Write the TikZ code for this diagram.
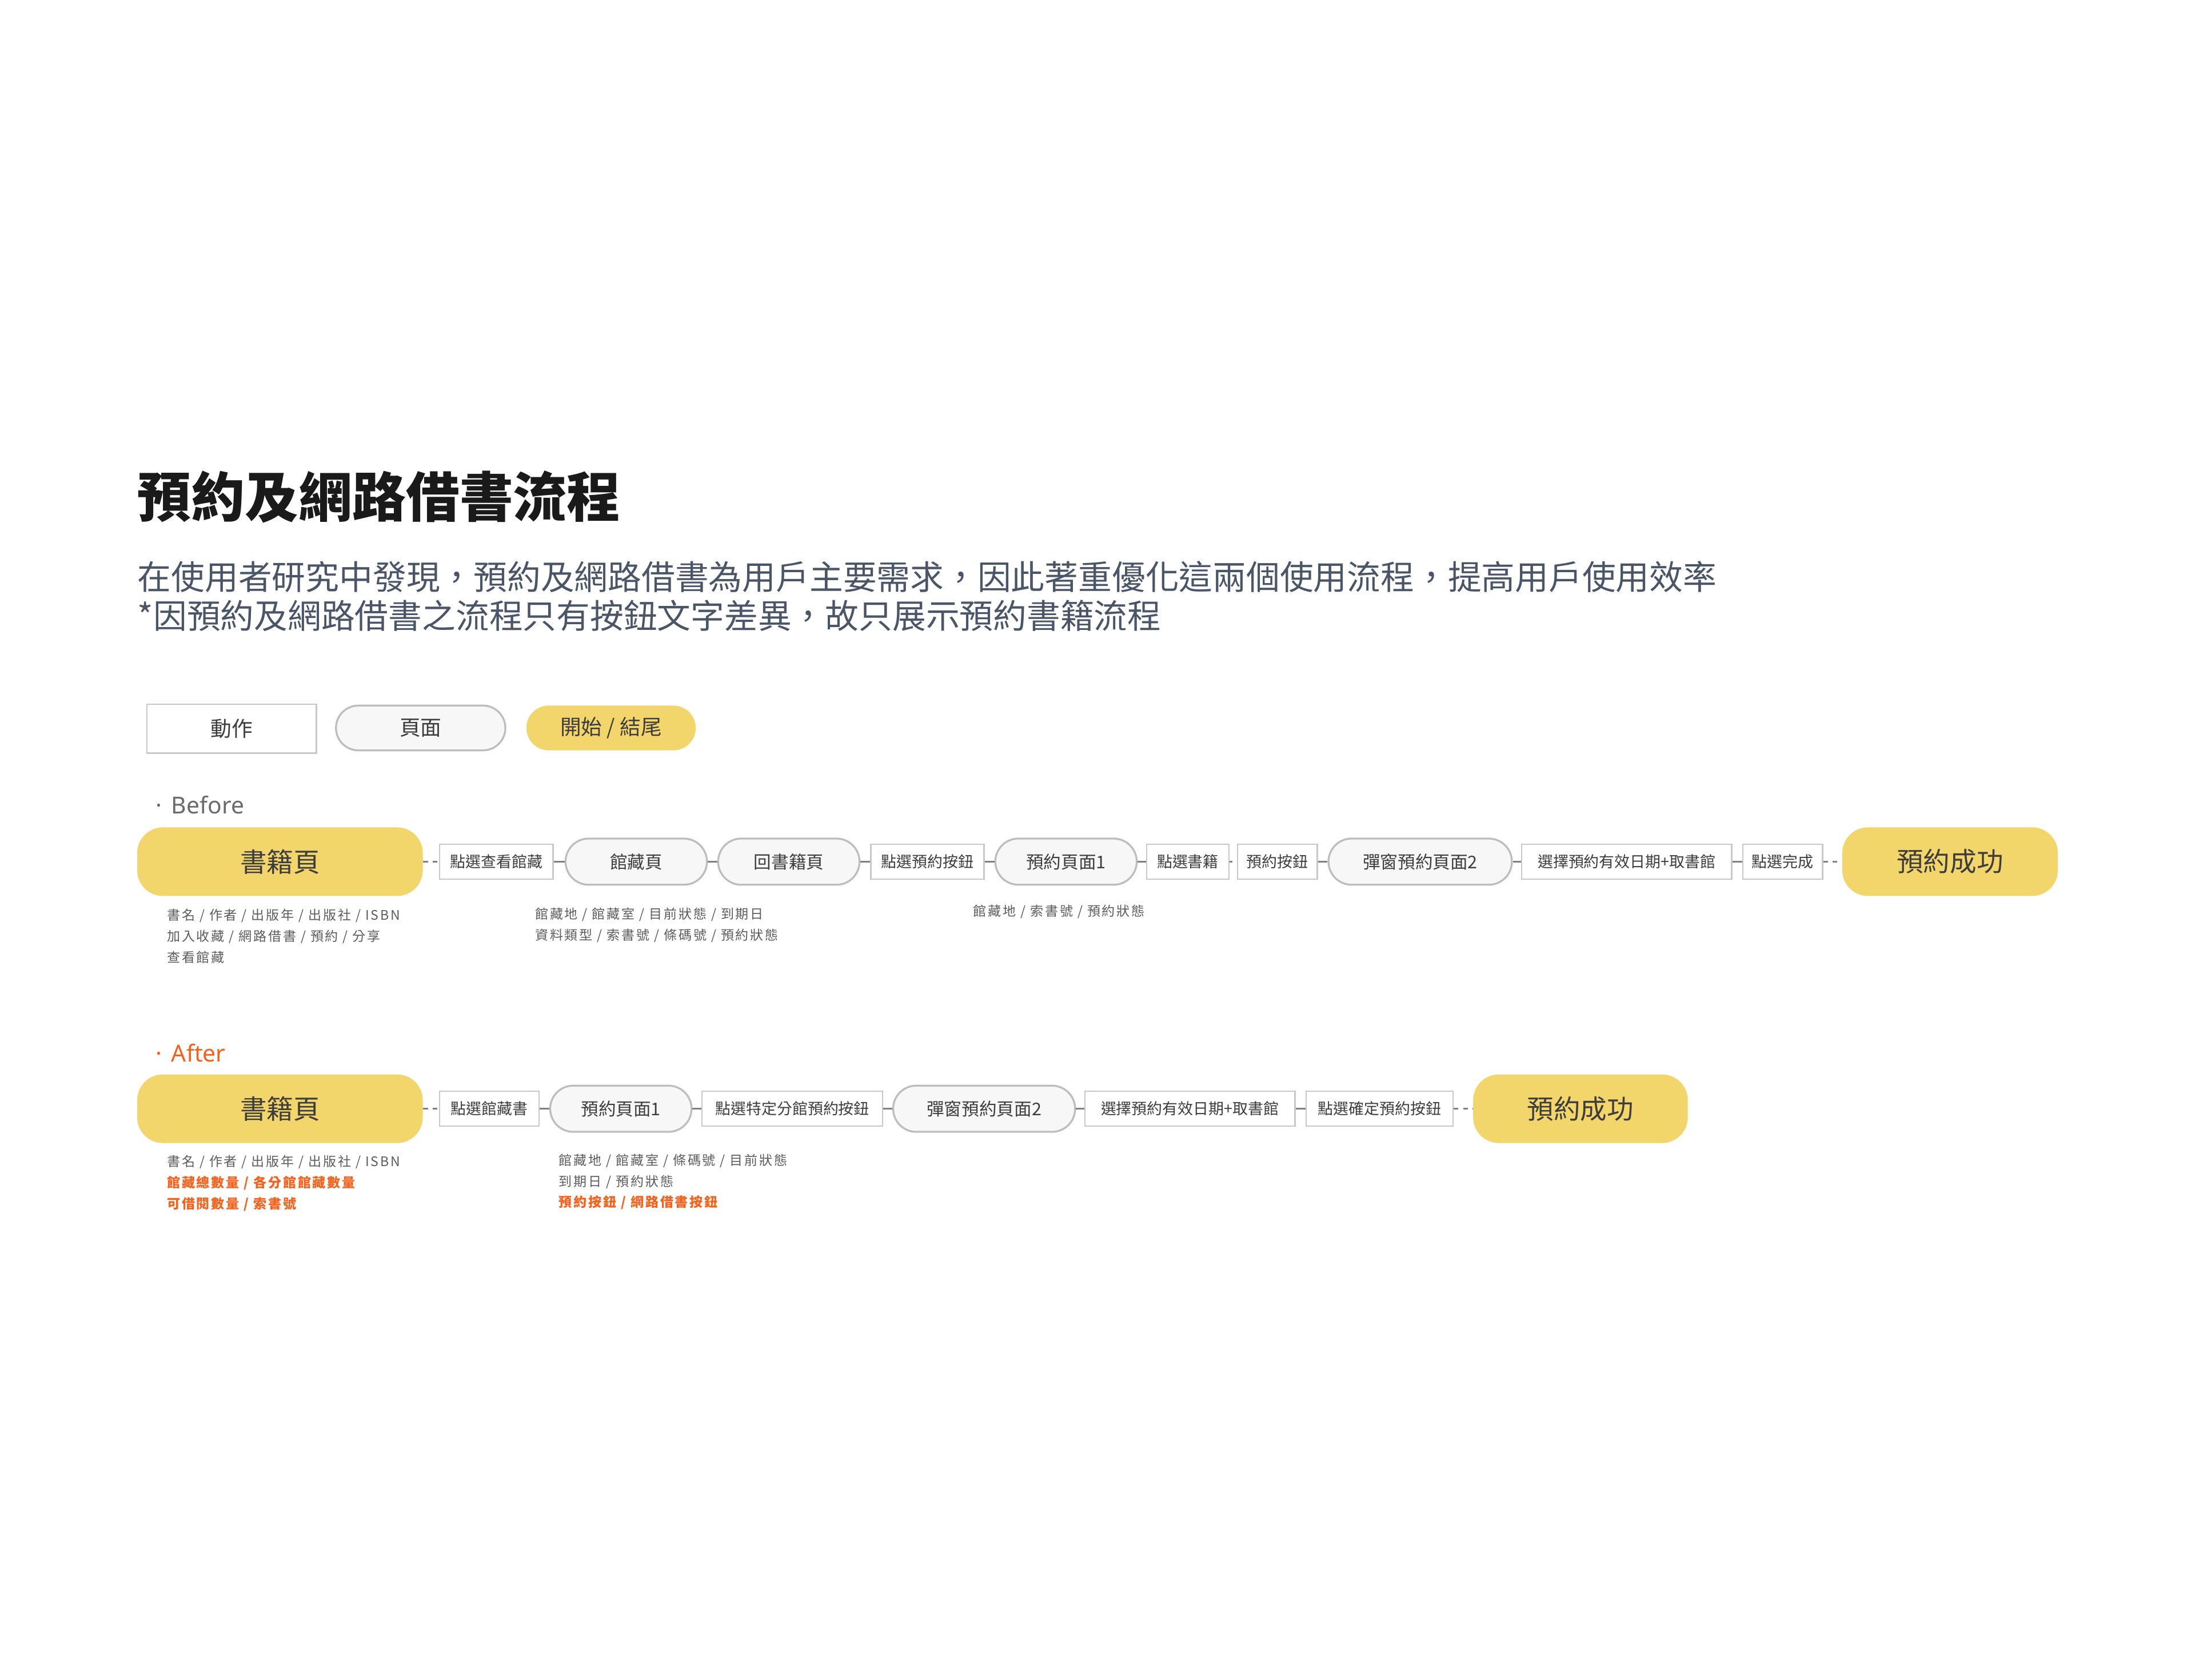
\documentclass[tikz,border=0pt]{standalone}
\usepackage{fontspec}
\setmainfont{Noto Sans CJK TC}
\newfontfamily\annofont[LetterSpace=12]{Noto Sans CJK TC}
\newfontfamily\latinfont{Noto Sans}
\definecolor{titlec}{HTML}{1A1A1A}
\definecolor{subc}{HTML}{4A5568}
\definecolor{yellowc}{HTML}{F2D56B}
\definecolor{pillfill}{HTML}{F7F7F7}
\definecolor{pillline}{HTML}{BDBDBD}
\definecolor{boxline}{HTML}{C8C8C8}
\definecolor{conncol}{HTML}{808080}
\definecolor{nodetext}{HTML}{3D3D3D}
\definecolor{annoc}{HTML}{5C5C5C}
\definecolor{orangec}{HTML}{F5621E}
\definecolor{labelc}{HTML}{6B6B6B}
\tikzset{
  actbox/.style={draw=boxline, fill=white, line width=0.6pt, inner sep=0pt,
    minimum height=15pt, text=nodetext, font=\fontsize{6.6}{8}\selectfont},
  pagebox/.style={draw=pillline, fill=pillfill, line width=0.8pt, inner sep=0pt,
    rounded corners=9.9pt, minimum height=19.8pt, minimum width=60.6pt,
    text=nodetext, font=\fontsize{7.5}{9}\selectfont},
  endbox/.style={fill=yellowc, inner sep=0pt, rounded corners=11pt,
    minimum height=29.4pt, text=nodetext, font=\fontsize{11.4}{13}\selectfont},
  conn/.style={draw=conncol, line width=0.8pt},
  dconn/.style={conn, dash pattern=on 2pt off 2pt},
  sconn/.style={conn, dash pattern=on 1pt off 2.2pt},
  anno/.style={anchor=north west, align=left, inner sep=0pt, text=annoc,
    font=\fontsize{5.65}{9}\selectfont\annofont},
  seclabel/.style={anchor=west, inner sep=0pt, font=\fontsize{10}{12}\selectfont\latinfont}
}
\begin{document}
\begin{tikzpicture}[x=0.6pt,y=-0.6pt]
\useasboundingbox[fill=white] (0,0) rectangle (1568,1200);

% title and subtitle
\node[anchor=west, inner sep=0pt, text=titlec, font=\fontsize{23}{26}\selectfont\bfseries] (title) at (98,355) {預約及網路借書流程};
\node[anchor=west, inner sep=0pt, text=subc, font=\fontsize{14.4}{17}\selectfont] (sub1) at (98,412) {在使用者研究中發現，預約及網路借書為用戶主要需求，因此著重優化這兩個使用流程，提高用戶使用效率};
\node[anchor=west, inner sep=0pt, text=subc, font=\fontsize{14.4}{17}\selectfont] (sub2) at (98,440) {*因預約及網路借書之流程只有按鈕文字差異，故只展示預約書籍流程};

% legend
\node[actbox, minimum width=72.6pt, minimum height=21pt, font=\fontsize{9}{11}\selectfont] (lg1) at (165.5,520.5) {動作};
\node[pagebox, minimum width=72.6pt, minimum height=19.2pt, rounded corners=9.6pt, font=\fontsize{9}{11}\selectfont] (lg2) at (300.5,520) {頁面};
\node[endbox, minimum width=72.6pt, minimum height=19.2pt, rounded corners=9.6pt, font=\fontsize{9}{11}\selectfont] (lg3) at (436.5,520) {開始 / 結尾};

% Before
\node[seclabel, text=labelc] (before) at (111,575) {·\hspace{4pt}Before};

\node[endbox, minimum width=122.4pt] (bk1) at (200,615.5) {書籍頁};
\node[actbox, minimum width=48.6pt] (a1) at (354.5,615.5) {點選查看館藏};
\node[pagebox] (p1) at (454.5,615.5) {館藏頁};
\node[pagebox] (p2) at (563.5,615.5) {回書籍頁};
\node[actbox, minimum width=48.6pt] (a2) at (662.5,615.5) {點選預約按鈕};
\node[pagebox] (p3) at (761.5,615.5) {預約頁面1};
\node[actbox, minimum width=35.4pt] (a3) at (848.5,615.5) {點選書籍};
\node[actbox, minimum width=34.2pt] (a4) at (912.5,615.5) {預約按鈕};
\node[pagebox, minimum width=78.6pt] (p4) at (1014.5,615.5) {彈窗預約頁面2};
\node[actbox, minimum width=90pt] (a5) at (1162,615.5) {選擇預約有效日期+取書館};
\node[actbox, minimum width=34.2pt] (a6) at (1273.5,615.5) {點選完成};
\node[endbox, minimum width=92.4pt] (e1) at (1393,615.5) {預約成功};

\draw[dconn] (bk1) -- (a1);
\draw[conn] (a1) -- (p1);
\draw[conn] (p1) -- (p2);
\draw[conn] (p2) -- (a2);
\draw[conn] (a2) -- (p3);
\draw[conn] (p3) -- (a3);
\draw[sconn] (a3) -- (a4);
\draw[conn] (a4) -- (p4);
\draw[conn] (p4) -- (a5);
\draw[conn] (a5) -- (a6);
\draw[dconn] (a6) -- (e1);

\node[anno] (n1) at (119,649) {書名 / 作者 / 出版年 / 出版社 / ISBN\\加入收藏 / 網路借書 / 預約 / 分享\\查看館藏};
\node[anno] (n2) at (382,648) {館藏地 / 館藏室 / 目前狀態 / 到期日\\資料類型 / 索書號 / 條碼號 / 預約狀態};
\node[anno] (n3) at (695,646) {館藏地 / 索書號 / 預約狀態};

% After
\node[seclabel, text=orangec] (after) at (111,752) {·\hspace{4pt}After};

\node[endbox, minimum width=122.4pt] (bk2) at (200,792) {書籍頁};
\node[actbox, minimum width=42.6pt] (b1) at (349.5,792) {點選館藏書};
\node[pagebox] (q1) at (443.5,792) {預約頁面1};
\node[actbox, minimum width=77.4pt] (b2) at (566,792) {點選特定分館預約按鈕};
\node[pagebox, minimum width=78pt] (q2) at (703,792) {彈窗預約頁面2};
\node[actbox, minimum width=90pt] (b3) at (850,792) {選擇預約有效日期+取書館};
\node[actbox, minimum width=63pt] (b4) at (985.5,792) {點選確定預約按鈕};
\node[endbox, minimum width=92pt] (e2) at (1129,792) {預約成功};

\draw[dconn] (bk2) -- (b1);
\draw[conn] (b1) -- (q1);
\draw[conn] (q1) -- (b2);
\draw[conn] (b2) -- (q2);
\draw[conn] (q2) -- (b3);
\draw[conn] (b3) -- (b4);
\draw[dconn] (b4) -- (e2);

\node[anno] (m1) at (119,825) {書名 / 作者 / 出版年 / 出版社 / ISBN\\{\color{orangec}\bfseries 館藏總數量 / 各分館館藏數量}\\{\color{orangec}\bfseries 可借閱數量 / 索書號}};
\node[anno] (m2) at (399,824) {館藏地 / 館藏室 / 條碼號 / 目前狀態\\到期日 / 預約狀態\\{\color{orangec}\bfseries 預約按鈕 / 網路借書按鈕}};
\end{tikzpicture}
\end{document}
